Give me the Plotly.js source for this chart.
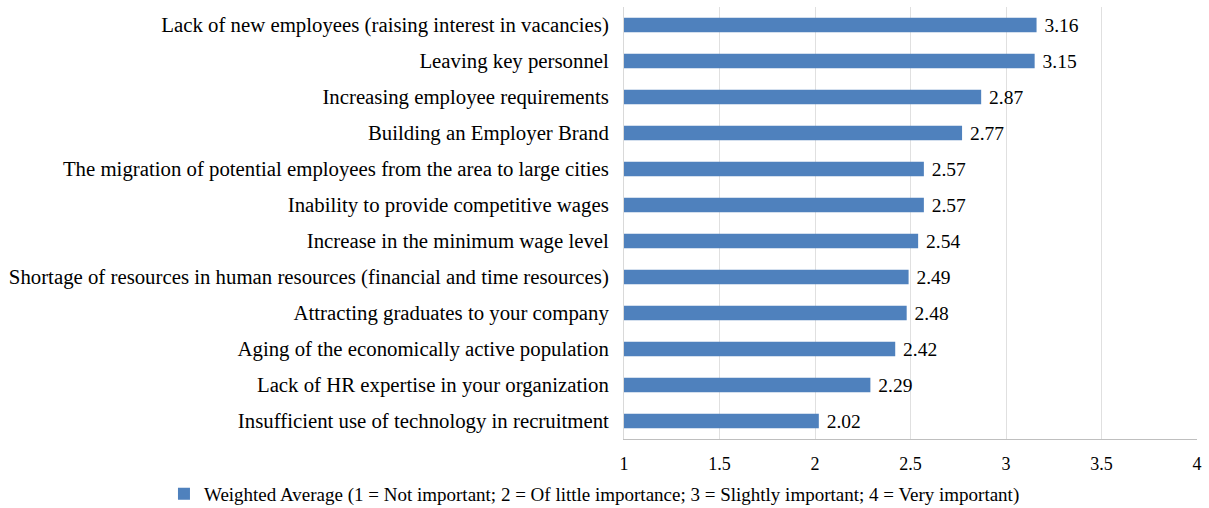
<!DOCTYPE html>
<html>
<head>
<meta charset="utf-8">
<script src="https://cdn.plot.ly/plotly-3.0.1.min.js"></script>
<style>html,body{margin:0;padding:0;background:#fff;}#chart{width:1209px;height:508px;}</style>
</head>
<body>
<div id="chart"></div>
<script>
var categories = [
  "Lack of new employees (raising interest in vacancies)",
  "Leaving key personnel",
  "Increasing employee requirements",
  "Building an Employer Brand",
  "The migration of potential employees from the area to large cities",
  "Inability to provide competitive wages",
  "Increase in the minimum wage level",
  "Shortage of resources in human resources (financial and time resources)",
  "Attracting graduates to your company",
  "Aging of the economically active population",
  "Lack of HR expertise in your organization",
  "Insufficient use of technology in recruitment"
];
var values = [3.16, 3.15, 2.87, 2.77, 2.57, 2.57, 2.54, 2.49, 2.48, 2.42, 2.29, 2.02];
var seriesName = "Weighted Average (1 = Not important; 2 = Of little importance; 3 = Slightly important; 4 = Very important)";
var tickVals = [1, 1.5, 2, 2.5, 3, 3.5, 4];
var tickText = ["1", "1.5", "2", "2.5", "3", "3.5", "4"];

var font = "'Liberation Serif', 'Times New Roman', serif";

var trace = {
  type: "bar",
  orientation: "h",
  y: categories,
  x: values.map(function(v){ return v - 1; }),
  base: 1,
  name: seriesName,
  text: values.map(function(v){ return "\u00a0" + v.toFixed(2); }),
  textposition: "outside",
  constraintext: "none",
  cliponaxis: false,
  textfont: {family: font, size: 19.5, color: "#000"},
  marker: {color: "#4F81BD", line: {width: 0}},
  width: 0.4,
  showlegend: true,
  hoverinfo: "y+text"
};

var layout = {
  width: 1209,
  height: 508,
  margin: {l: 624, r: 12, t: 7, b: 69, pad: 0},
  paper_bgcolor: "#fff",
  plot_bgcolor: "#fff",
  font: {family: font, size: 18, color: "#000"},
  bargap: 0.6,
  xaxis: {
    range: [1, 4],
    tickvals: tickVals,
    ticktext: tickText,
    showgrid: true,
    gridcolor: "#e0e0e0",
    gridwidth: 1,
    zeroline: false,
    showline: true,
    linecolor: "#bfbfbf",
    linewidth: 1,
    ticks: "",
    ticklabelstandoff: 8,
    tickfont: {family: font, size: 18, color: "#000"},
    fixedrange: true
  },
  yaxis: {
    autorange: "reversed",
    type: "category",
    showline: true,
    linecolor: "#d9d9d9",
    linewidth: 1,
    showgrid: false,
    ticks: "",
    ticklabelstandoff: 10,
    tickfont: {family: font, size: 20.8, color: "#000"},
    fixedrange: true
  },
  showlegend: true,
  legend: {
    orientation: "h",
    xref: "container",
    yref: "container",
    x: 0.4917,
    xanchor: "center",
    y: 0.028,
    yanchor: "middle",
    font: {family: font, size: 19, color: "#000"},
    itemwidth: 30,
    bgcolor: "rgba(0,0,0,0)"
  }
};

Plotly.newPlot("chart", [trace], layout, {displayModeBar: false, staticPlot: true});
</script>
</body>
</html>
